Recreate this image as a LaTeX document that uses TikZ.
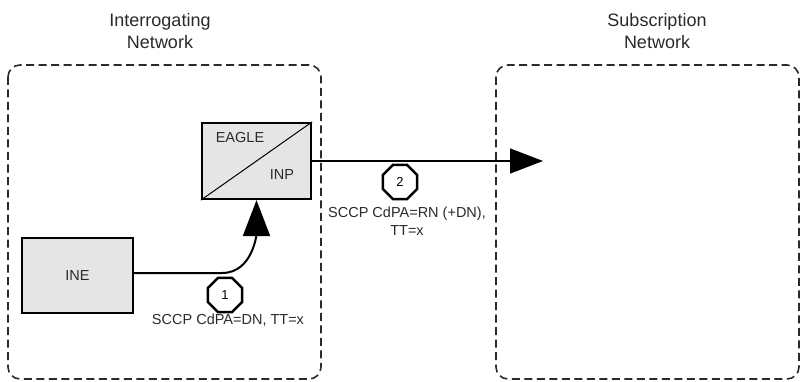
\documentclass[tikz,border=0pt]{standalone}
\usepackage{fontspec}
\setmainfont{Liberation Sans}
\usetikzlibrary{arrows.meta,shapes.geometric}
\definecolor{ink}{HTML}{2A2A2A}
\begin{document}
\begin{tikzpicture}[x=1pt,y=-1pt,
  netbox/.style={draw=ink,line width=1.6pt,dash pattern=on 8pt off 4.5pt,rounded corners=12pt},
  title/.style={font=\fontsize{18}{22}\selectfont,text=ink,align=center},
  elem/.style={draw=black,line width=2.2pt,fill=gray!20,minimum width=109pt,minimum height=76pt,inner sep=0pt},
  lbl/.style={font=\fontsize{14.5}{18}\selectfont,text=ink,align=center,inner sep=0pt},
  step8/.style={regular polygon,regular polygon sides=8,draw=black,line width=2.4pt,minimum size=37pt,inner sep=0pt,font=\fontsize{13}{15}\selectfont}
]
\useasboundingbox (0,0) rectangle (802,382);
% network boxes
\draw[netbox] (8,65) rectangle (321,379);
\draw[netbox] (496,65) rectangle (799,379);
\node[title] (t1) at (160,31) {Interrogating\\Network};
\node[title] (t2) at (657,31) {Subscription\\Network};
% elements
\node[elem] (eagle) at (256.5,161) {};
\draw[line width=1pt] (eagle.south west) -- (eagle.north east);
\node[lbl] (eaglet) at (240,138) {EAGLE};
\node[lbl] (inpt) at (282,175) {INP};
\node[elem,minimum width=111pt,minimum height=75pt] (ine) at (77.5,275.5) {};
\node[lbl] (inet) at (77.5,275.5) {INE};
% connectors
\coordinate (bend) at (222,273);
\coordinate (tip2) at (543,161);
\draw[line width=2pt,-{Triangle[length=36pt,width=27pt]}] (ine.east |- bend) -- (bend) to[out=0,in=-90] (eagle.south);
\draw[line width=1.3pt,-{Triangle[length=33pt,width=25pt]}] (eagle.east) -- (tip2);
% step markers
\node[step8] (s2) at (400,182) {2};
\node[step8] (s1) at (225,295) {1};
\node[lbl] (l2) at (407,221) {SCCP CdPA=RN (+DN),\\TT=x};
\node[lbl] (l1) at (228,320) {SCCP CdPA=DN, TT=x};
\end{tikzpicture}
\end{document}
